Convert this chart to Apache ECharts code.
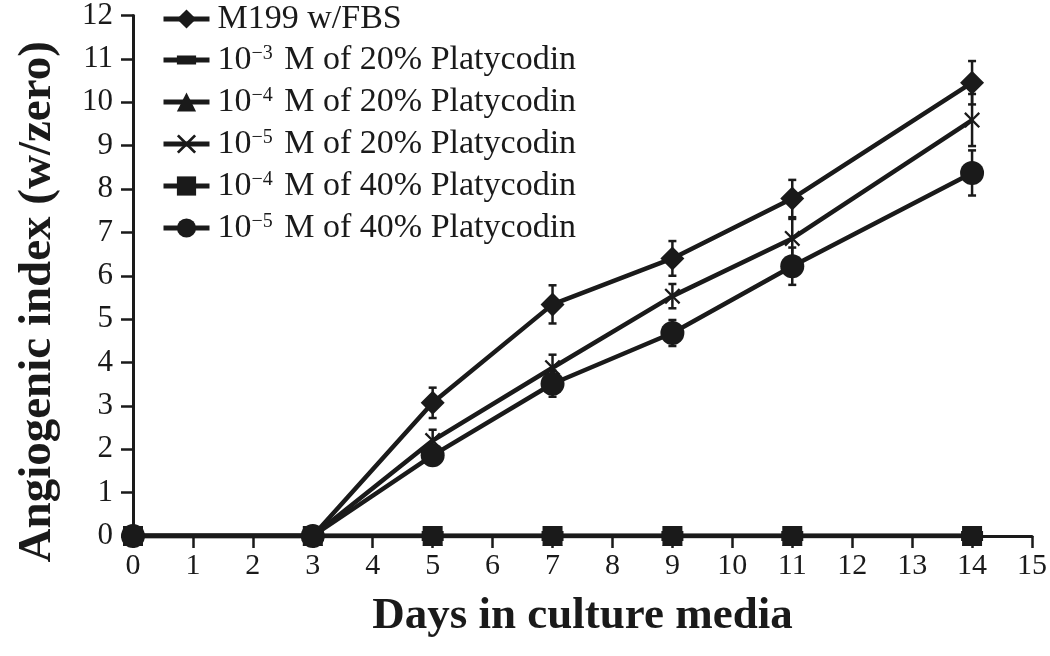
<!DOCTYPE html>
<html>
<head>
<meta charset="utf-8">
<script src="https://cdn.jsdelivr.net/npm/echarts@6/dist/echarts.min.js"></script>
<style>
  html, body { margin: 0; padding: 0; background: #fff; }
  #main { width: 1050px; height: 656px; }
</style>
</head>
<body>
<div id="main"></div>
<script>
// days in culture media
const days = [0, 3, 5, 7, 9, 11, 14];

// angiogenic index, mean and +/- error
const fbsMean = [0, 0, 3.07, 5.34, 6.4, 7.78, 10.45];
const fbsErr = [0, 0, 0.35, 0.44, 0.4, 0.43, 0.5];
const p3_20Mean = [0, 0, 0, 0, 0, 0, 0];
const p4_20Mean = [0, 0, 0, 0, 0, 0, 0];
const p5_20Mean = [0, 0, 2.2, 3.88, 5.53, 6.86, 9.59];
const p5_20Err = [0, 0, 0.25, 0.3, 0.28, 0.45, 0.6];
const p4_40Mean = [0, 0, 0, 0, 0, 0, 0];
const p5_40Mean = [0, 0, 1.86, 3.51, 4.68, 6.22, 8.37];
const p5_40Err = [0, 0, 0.2, 0.3, 0.3, 0.43, 0.52];

const xTicks = [0, 15, 1];
const yTicks = [0, 12, 1];

const names = [
  'M199 w/FBS',
  '10^-3 M of 20% Platycodin',
  '10^-4 M of 20% Platycodin',
  '10^-5 M of 20% Platycodin',
  '10^-4 M of 40% Platycodin',
  '10^-5 M of 40% Platycodin'
];

const FONT = '"Liberation Serif", "DejaVu Serif", serif';
const INK = '#1a1a1a';
const crossPath = 'path://M0,1L1,0L5,4L9,0L10,1L6,5L10,9L9,10L5,6L1,10L0,9L4,5Z';
// flat bar, padded with empty moves so it stays flat when scaled into a square
const dashPath = 'path://M0,-5L0.01,-5M0,0L20,0L20,9L0,9ZM0,14L0.01,14';

function pairs(ys) {
  return days.map((d, i) => [d, ys[i]]);
}

function errData(ys, es) {
  const out = [];
  days.forEach((d, i) => {
    if (es[i] > 0) out.push([d, ys[i] - es[i], ys[i] + es[i]]);
  });
  return out;
}

function errSeries(ys, es) {
  return {
    type: 'custom',
    silent: true,
    z: 1,
    data: errData(ys, es),
    renderItem: function (params, api) {
      const lo = api.coord([api.value(0), api.value(1)]);
      const hi = api.coord([api.value(0), api.value(2)]);
      const w = 4;
      const style = { stroke: INK, lineWidth: 2.5 };
      return {
        type: 'group',
        children: [
          { type: 'line', shape: { x1: lo[0], y1: lo[1], x2: hi[0], y2: hi[1] }, style: style },
          { type: 'line', shape: { x1: lo[0] - w, y1: lo[1], x2: lo[0] + w, y2: lo[1] }, style: style },
          { type: 'line', shape: { x1: hi[0] - w, y1: hi[1], x2: hi[0] + w, y2: hi[1] }, style: style }
        ]
      };
    }
  };
}

function lineSeries(name, ys, symbol, size) {
  return {
    name: name,
    type: 'line',
    data: pairs(ys),
    symbol: symbol,
    symbolSize: size,
    symbolKeepAspect: true,
    showAllSymbol: true,
    z: 3,
    lineStyle: { color: INK, width: 4.5 },
    itemStyle: { color: INK }
  };
}

const chart = echarts.init(document.getElementById('main'), null, { renderer: 'canvas' });

const option = {
  animation: false,
  backgroundColor: '#fff',
  grid: { left: 133, right: 17, top: 13, bottom: 120 },
  legend: {
    orient: 'vertical',
    left: 156,
    top: -3,
    itemGap: 7,
    itemWidth: 46,
    itemHeight: 24,
    selectedMode: false,
    data: names,
    lineStyle: { width: 5 },
    formatter: function (n) {
      return n.replace(/\^(-\d)/, function (m, p) {
        return '{sup|' + p.replace('-', '\u2212') + '}';
      });
    },
    textStyle: {
      fontFamily: FONT,
      fontSize: 34,
      color: INK,
      lineHeight: 32,
      padding: [0, 0, 0, 3],
      rich: {
        sup: { fontFamily: FONT, fontSize: 20, color: INK, verticalAlign: 'top', lineHeight: 32, padding: [0, 3, 14, 0] }
      }
    }
  },
  xAxis: {
    type: 'value',
    min: xTicks[0],
    max: xTicks[1],
    interval: xTicks[2],
    name: 'Days in culture media',
    nameLocation: 'middle',
    nameGap: 58,
    nameTextStyle: { fontFamily: FONT, fontSize: 45, fontWeight: 'bold', color: INK },
    axisLine: { lineStyle: { color: INK, width: 3 } },
    axisTick: { length: 12, lineStyle: { color: INK, width: 2.5 } },
    axisLabel: { fontFamily: FONT, fontSize: 30, color: INK, margin: 15 },
    splitLine: { show: false }
  },
  yAxis: {
    type: 'value',
    min: yTicks[0],
    max: yTicks[1],
    interval: yTicks[2],
    name: 'Angiogenic index (w/zero)',
    nameLocation: 'middle',
    nameGap: 72,
    nameTextStyle: {
      fontFamily: FONT, fontSize: 47, fontWeight: 'bold', color: INK,
      padding: [0, 52, 0, 0]
    },
    axisLine: { show: true, lineStyle: { color: INK, width: 3 } },
    axisTick: { show: true, length: 12, lineStyle: { color: INK, width: 2.5 } },
    axisLabel: { fontFamily: FONT, fontSize: 31, color: INK, margin: 20 },
    splitLine: { show: false }
  },
  series: [
    errSeries(fbsMean, fbsErr),
    errSeries(p5_20Mean, p5_20Err),
    errSeries(p5_40Mean, p5_40Err),
    lineSeries(names[0], fbsMean, 'diamond', 24),
    lineSeries(names[1], p3_20Mean, dashPath, 22),
    lineSeries(names[2], p4_20Mean, 'triangle', 20),
    lineSeries(names[3], p5_20Mean, crossPath, 16),
    lineSeries(names[5], p5_40Mean, 'circle', 24),
    lineSeries(names[4], p4_40Mean, 'rect', 20)
  ]
};

chart.setOption(option);
</script>
</body>
</html>
